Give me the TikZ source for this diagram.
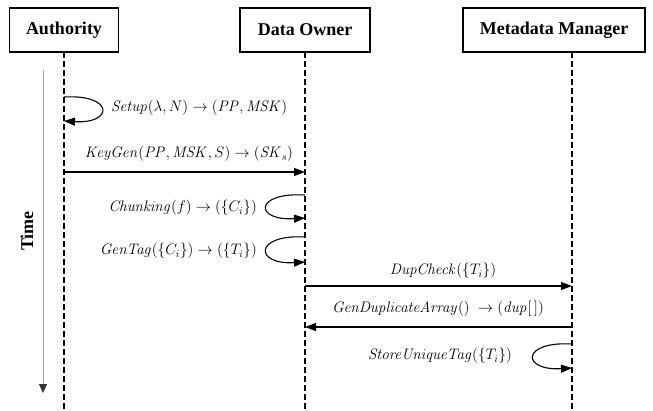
\RequirePackage{fix-cm}
\documentclass[tikz,border=0pt]{standalone}
\usepackage[no-math]{fontspec}
\setmainfont{Liberation Serif}
\usetikzlibrary{arrows.meta}

\begin{document}
\begin{tikzpicture}[x=1pt,y=-1pt,
  actor/.style={draw, line width=1.4pt, minimum height=44pt, inner sep=2pt,
    font=\fontsize{18}{21}\selectfont\bfseries},
  lifeline/.style={line width=1.5pt, dash pattern=on 6pt off 3pt},
  msg/.style={line width=1.1pt, -{Triangle[length=11pt,width=8pt]}},
  lbl/.style={font=\fontsize{15.2}{18}\selectfont, inner sep=0pt}]
\useasboundingbox (0,0) rectangle (653,410);

% participants
\node[actor, minimum width=109pt] (auth)  at (64,30)  {Authority};
\node[actor, minimum width=130pt] (owner) at (305,30) {Data Owner};
\node[actor, minimum width=182pt] (meta)  at (554,30) {Metadata Manager};

% lifelines
\coordinate (atop) at (64,52);
\coordinate (otop) at (305,52);
\coordinate (mtop) at (572,52);
\coordinate (abot) at (64,410);
\coordinate (obot) at (305,410);
\coordinate (mbot) at (572,410);
\draw[lifeline] (atop) -- (abot);
\draw[lifeline] (otop) -- (obot);
\draw[lifeline] (mtop) -- (mbot);

% time axis
\coordinate (t0) at (43,70);
\coordinate (t1) at (43,393);
\draw[gray!70, line width=0.8pt, -{Triangle[length=9pt,width=8pt,fill=black!80,color=black!80]}] (t0) -- (t1);
\node[rotate=90, font=\fontsize{18}{21}\selectfont\bfseries] (time) at (27,231) {Time};

% Setup: self call on Authority
\draw[msg] (atop |- 0,97) .. controls (114,94) and (114,124) .. (atop |- 0,121);
\node[lbl, anchor=west] (l1) at (111,108) {$\mathit{Setup}(\lambda,N)\rightarrow(\mathit{PP},\mathit{MSK})$};

% KeyGen
\draw[msg] (atop |- 0,172) -- (otop |- 0,172);
\node[lbl] (l2) at (189,154) {$\mathit{KeyGen}(\mathit{PP},\mathit{MSK},S)\rightarrow(\mathit{SK}_s)$};

% Chunking: self call on Data Owner
\draw[msg] (otop |- 0,195) .. controls (254,192) and (254,221) .. (otop |- 0,218);
\node[lbl, anchor=east] (l3) at (257,208) {$\mathit{Chunking}(f)\rightarrow(\{C_i\})$};

% GenTag: self call on Data Owner
\draw[msg] (otop |- 0,237) .. controls (254,234) and (254,265) .. (otop |- 0,262);
\node[lbl, anchor=east] (l4) at (257,251) {$\mathit{GenTag}(\{C_i\})\rightarrow(\{T_i\})$};

% DupCheck
\draw[msg] (otop |- 0,286) -- (mtop |- 0,286);
\node[lbl] (l5) at (443,271) {$\mathit{DupCheck}(\{T_i\})$};

% GenDuplicateArray
\draw[msg] (mtop |- 0,327) -- (otop |- 0,327);
\node[lbl] (l6) at (438,309) {$\mathit{GenDuplicateArray}()\;\rightarrow(\mathit{dup}[\,])$};

% StoreUniqueTag: self call on Metadata Manager
\draw[msg] (mtop |- 0,344) .. controls (521,341) and (521,371) .. (mtop |- 0,368);
\node[lbl] (l7) at (440,356) {$\mathit{StoreUniqueTag}(\{T_i\})$};
\end{tikzpicture}
\end{document}
